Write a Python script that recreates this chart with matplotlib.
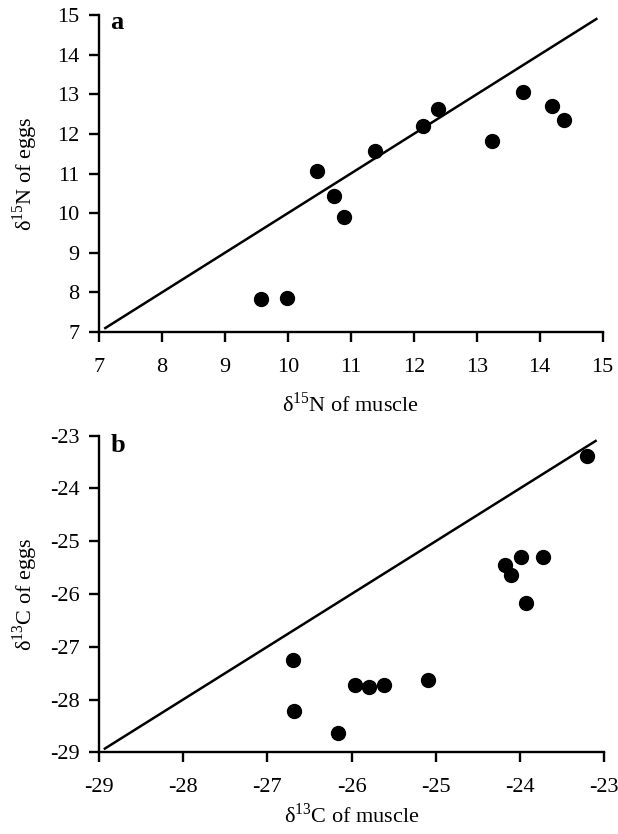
import numpy as np
import matplotlib
matplotlib.use('Agg')
import matplotlib.pyplot as plt

plt.rcParams['font.family'] = ['Liberation Serif', 'DejaVu Serif']
plt.rcParams['mathtext.fontset'] = 'custom'
plt.rcParams['mathtext.rm'] = 'Liberation Serif'

# panel a: delta 15N
n_muscle = [9.58, 9.99, 10.47, 10.74, 10.89, 11.38, 12.14, 12.38, 13.25, 13.74, 14.20, 14.39]
n_eggs = [7.84, 7.87, 11.07, 10.42, 9.91, 11.58, 12.21, 12.64, 11.83, 13.05, 12.71, 12.36]
n_line = [7.1, 14.9]

# panel b: delta 13C
c_muscle = [-26.70, -26.68, -26.16, -25.96, -25.79, -25.62, -25.09,
            -24.18, -24.10, -23.99, -23.72, -23.93, -23.20]
c_eggs = [-27.26, -28.22, -28.64, -27.73, -27.76, -27.73, -27.63,
          -25.46, -25.64, -25.29, -25.29, -26.17, -23.38]
c_line = [-28.93, -23.1]

fig = plt.figure(figsize=(6.18, 8.34), dpi=100)
ax1 = fig.add_axes([0.1602, 0.6019, 0.8150, 0.3801])
ax2 = fig.add_axes([0.1602, 0.0980, 0.8172, 0.3796])


def style(ax, lim, ticks, xlabel, ylabel, tag, xlab_y, tag_y):
    ax.set_xlim(lim)
    ax.set_ylim(lim)
    ax.set_xticks(ticks)
    ax.set_yticks(ticks)
    ax.set_xticklabels([str(t) for t in ticks])
    ax.set_yticklabels([str(t) for t in ticks])
    for s in ['top', 'right']:
        ax.spines[s].set_visible(False)
    for s in ['left', 'bottom']:
        ax.spines[s].set_linewidth(1.7)
    ax.tick_params(direction='out', length=7.5, width=1.7, labelsize=16)
    ax.tick_params(axis='x', pad=11)
    ax.tick_params(axis='y', pad=6.5)
    ax.set_xlabel(xlabel, fontsize=16)
    ax.set_ylabel(ylabel, fontsize=16)
    ax.xaxis.set_label_coords(0.5, xlab_y)
    ax.yaxis.set_label_coords(-0.117, 0.5)
    ax.text(0.022, tag_y, tag, transform=ax.transAxes, fontsize=19,
            fontweight='bold', va='baseline', ha='left')


ax1.plot(n_line, n_line, color='black', lw=1.8, clip_on=False)
ax1.scatter(n_muscle, n_eggs, s=100, color='black', zorder=3, clip_on=False)
style(ax1, (7, 15), list(range(7, 16)),
      r'δ$^{\mathrm{15}}$N of muscle', r'δ$^{\mathrm{15}}$N of eggs', 'a',
      -0.189, 0.956)

ax2.plot(c_line, c_line, color='black', lw=1.8, clip_on=False)
ax2.scatter(c_muscle, c_eggs, s=100, color='black', zorder=3, clip_on=False)
style(ax2, (-29, -23), list(range(-29, -22)),
      r'δ$^{\mathrm{13}}$C of muscle', r'δ$^{\mathrm{13}}$C of eggs', 'b',
      -0.160, 0.949)

fig.savefig('out.png', dpi=100)
